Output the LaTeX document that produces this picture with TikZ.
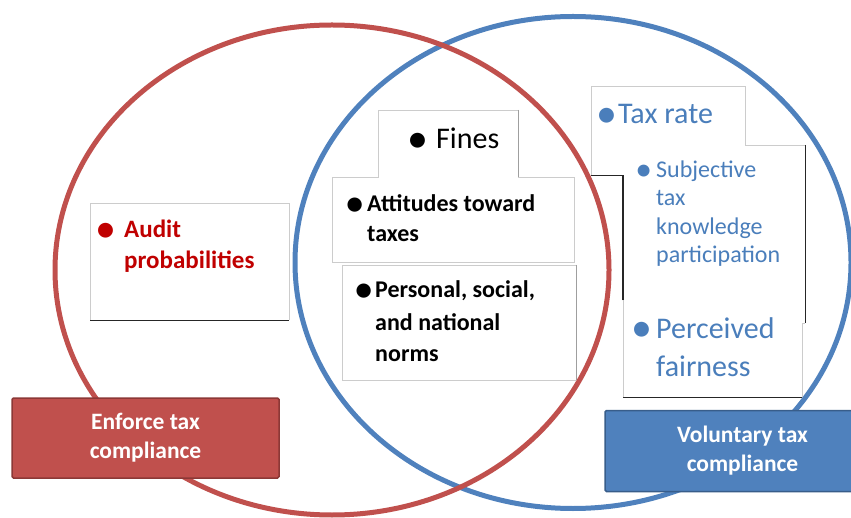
\documentclass[tikz,border=0pt]{standalone}
\usepackage{fontspec}
\setmainfont{Carlito}
\usetikzlibrary{positioning}
\definecolor{encred}{HTML}{C0504D}
\definecolor{encredd}{HTML}{8C3836}
\definecolor{volblue}{HTML}{4F81BD}
\definecolor{volblued}{HTML}{385D8A}
\definecolor{txtred}{HTML}{C00000}
\definecolor{txtblue}{HTML}{4A7EBB}
\newcommand\blt[1]{\llap{\raisebox{-0.12em}{\scalebox{1.4}{\textbullet}}\hspace{#1}}}

\begin{document}
\begin{tikzpicture}[x=1pt, y=-1pt,
		ring/.style = {line width=5pt},
		card/.style args = {#1/#2}{%
		rectangle, fill=white, inner sep=0pt, anchor=north west,
		minimum width=#1pt, minimum height=#2pt},
		lite/.style = {draw=gray!40, line width=0.8pt},
		mid/.style = {draw=gray!75, line width=0.9pt},
		shade/.style = {draw=black!85, line width=1.2pt},
		blurb/.style = {anchor=base west, align=left, inner sep=0pt},
		banner/.style = {rounded corners=1.5pt, line width=1.5pt, text=white,
		align=center, inner sep=0pt, font=\bfseries\fontsize{23.5}{29}\selectfont}
					]
		\useasboundingbox (0,0) rectangle (851,518);

		\draw[ring, volblue] (573,262.5) ellipse [x radius=278, y radius=246];
		\draw[ring, encred] (332,270) ellipse [x radius=277, y radius=245];

		\node(auditbox) [card=199/117] at (90,203) {};
		\node(finesbox) [card=140/67] at (378,110) {};
		\node(attbox) [card=242/85] at (332,177) {};
		\node(normbox) [card=234/115] at (342,265) {};
		\node(ratebox) [card=154/89] at (591,86) {};
		\node(subjbox) [card=182/155] at (623,145) {};
		\node(fairbox) [card=179/97] at (623,300) {};

		\draw[lite] (auditbox.south west) |- (auditbox.north east) -- (auditbox.south east);
		\draw[shade] (auditbox.south west) -- (auditbox.south east);
		\draw[lite] (attbox.south west) |- (finesbox.south west) -- (finesbox.north west) -- (finesbox.north east);
		\draw[lite] (finesbox.south east) -| (attbox.south east) -- (attbox.south west);
		\draw[mid] (finesbox.north east) -- (finesbox.south east);
		\draw[lite] (normbox.north east) -| (normbox.south west) -- (normbox.south east);
		\draw[mid] (normbox.north east) -- (normbox.south east);
		\draw[lite] (ratebox.south west) |- (ratebox.north east) |- (subjbox.north east);
		\draw[shade] (subjbox.north east) -- ([yshift=-23pt]subjbox.south east);
		\draw[lite] ([yshift=-23pt]subjbox.south east) -| (fairbox.south east);
		\draw[shade] (fairbox.south east) -- (fairbox.south west);
		\draw[lite] (fairbox.south west) -- (fairbox.north west);
		\draw[shade] (subjbox.south west) |- (ratebox.south west);

		\node(audit) [blurb, text=txtred, font=\bfseries\fontsize{25}{31}\selectfont] at (124,269) {\blt{10pt}Audit\\probabilities};
		\node(fines) [blurb, font=\fontsize{30}{36}\selectfont] at (436,149) {\blt{8pt}Fines};
		\node(attitudes) [blurb, font=\bfseries\fontsize{24}{30}\selectfont] at (367,242) {\blt{4pt}Attitudes toward\\taxes};
		\node(norms) [blurb, font=\bfseries\fontsize{24}{32}\selectfont] at (375,362) {\blt{3pt}Personal, social,\\and national\\norms};
		\node(rate) [blurb, text=txtblue, font=\fontsize{30}{36}\selectfont] at (618,124) {\blt{1pt}Tax rate};
		\node(subj) [blurb, text=txtblue, font=\fontsize{24}{28.5}\selectfont] at (656,263) {\blt{4pt}Subjective\\tax\\knowledge\\participation};
		\node(fair) [blurb, text=txtblue, font=\fontsize{30}{38}\selectfont] at (656,376) {\blt{4pt}Perceived\\fairness};

		\node(enforce) [banner, fill=encred, draw=encredd, minimum width=267pt, minimum height=80pt] at (145.5,438) {Enforce tax\\compliance};
		\node(voluntary) [banner, fill=volblue, draw=volblued, minimum width=275pt, minimum height=81pt] at (742.5,451) {Voluntary tax\\compliance};
	\end{tikzpicture}
\end{document}
